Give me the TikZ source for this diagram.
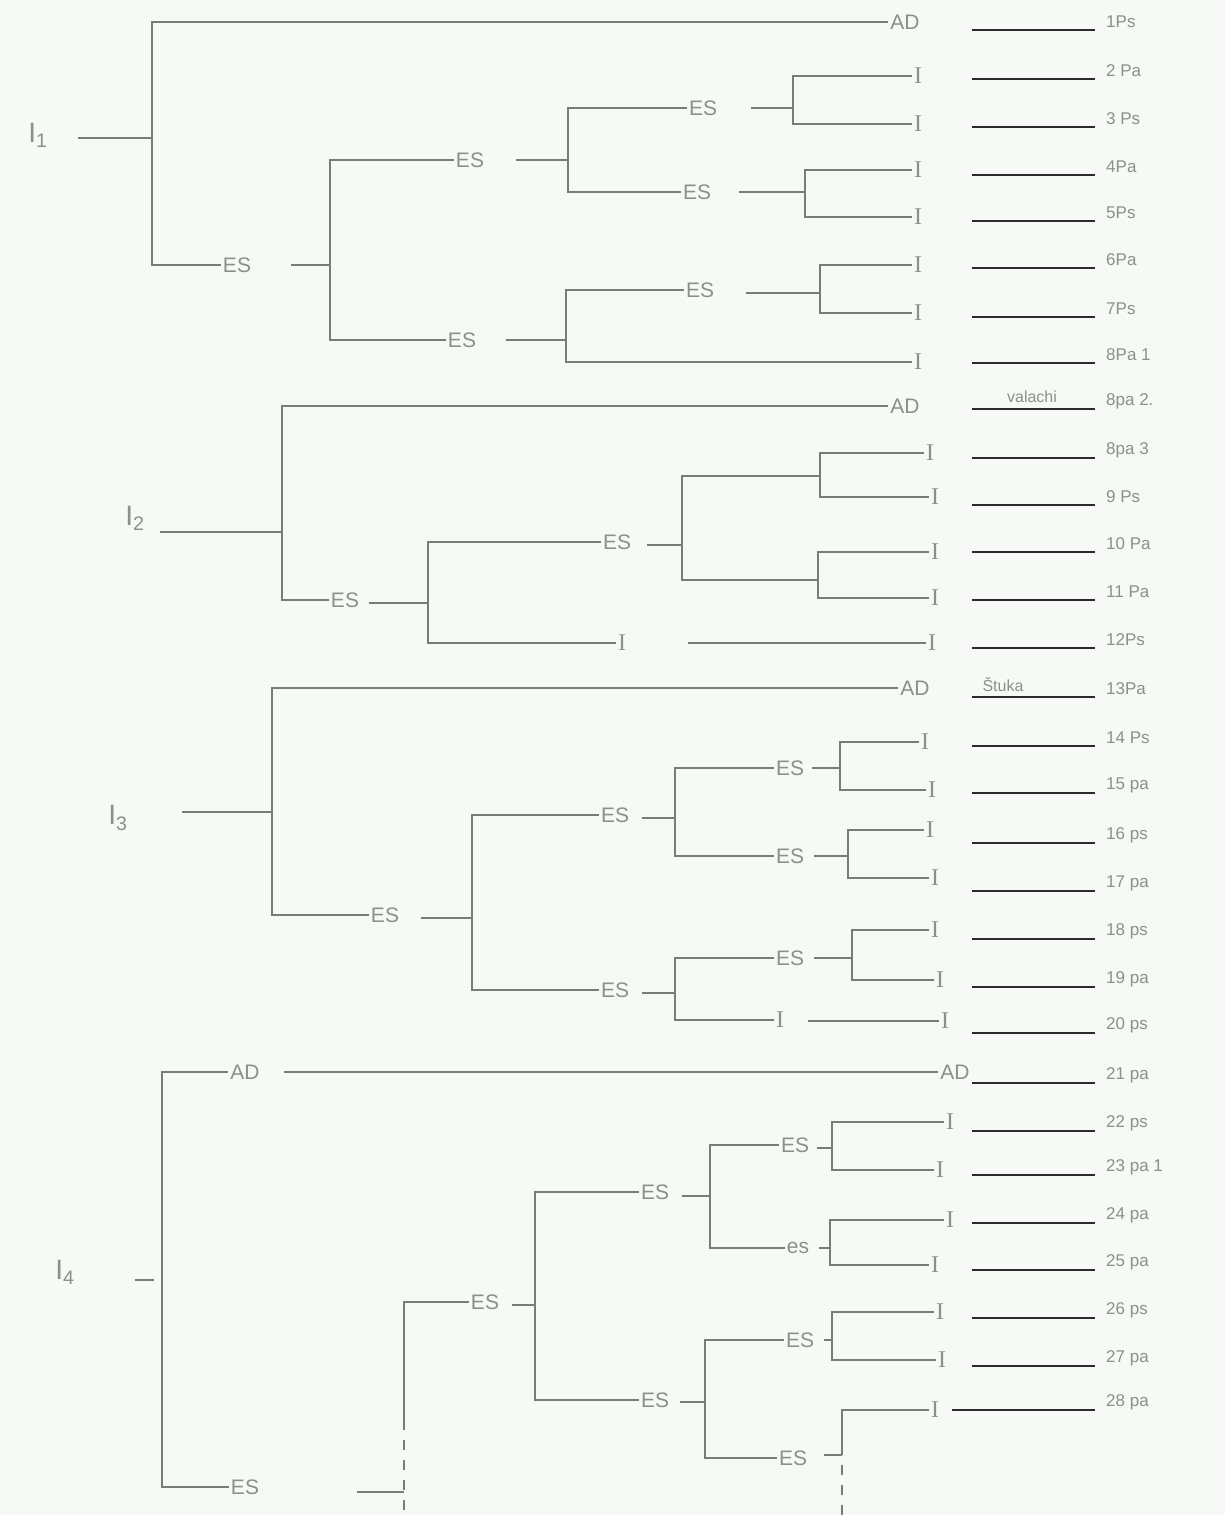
\documentclass[tikz,border=0pt]{standalone}
\usepackage{fontspec}
\setmainfont{Liberation Sans}
\newfontfamily\serifI{Liberation Serif}
\definecolor{paper}{RGB}{246,249,246}
\definecolor{pencil}{RGB}{122,124,122}
\definecolor{inkc}{RGB}{42,42,42}
\definecolor{hand}{RGB}{140,143,140}
\tikzset{
  lab/.style={text=hand, font=\fontsize{21}{21}\selectfont, inner sep=2pt},
  ilab/.style={text=hand, font=\serifI\fontsize{24}{24}\selectfont, inner sep=2pt},
  leaf/.style={text=hand, font=\fontsize{17}{17}\selectfont, anchor=west, inner sep=1pt},
  rootlab/.style={text=hand, font=\fontsize{28}{28}\selectfont, inner sep=2pt},
  note/.style={text=hand, font=\fontsize{16}{16}\selectfont, inner sep=1pt},
  br/.style={draw=pencil, line width=1.1pt},
  rl/.style={draw=inkc, line width=1.6pt},
  gapA/.style={shorten <=#1},
  gapB/.style={shorten >=#1}
}
\begin{document}
\begin{tikzpicture}[x=1pt,y=-1pt]
\useasboundingbox (0,0) rectangle (1225,1515);
\fill[paper] (0,0) rectangle (1225,1515);

% ---------- right-hand list ----------
\foreach \y/\x/\t [count=\k] in {
 30/972/1Ps, 79/972/2 Pa, 127/972/3 Ps, 175/972/4Pa, 221/972/5Ps, 268/972/6Pa,
 317/972/7Ps, 363/972/8Pa 1, 409/972/8pa 2., 458/972/8pa 3, 505/972/9 Ps,
 552/972/10 Pa, 600/972/11 Pa, 648/972/12Ps, 697/972/13Pa, 746/972/14 Ps,
 793/972/15 pa, 843/972/16 ps, 891/972/17 pa, 939/972/18 ps, 987/972/19 pa,
 1033/972/20 ps, 1083/972/21 pa, 1131/972/22 ps, 1175/972/23 pa 1,
 1223/972/24 pa, 1270/972/25 pa, 1318/972/26 ps, 1366/972/27 pa, 1410/952/28 pa}{
  \coordinate (s\k) at (\x,\y);
  \coordinate (e\k) at (1095,\y);
  \draw[rl] (s\k) -- (e\k);
  \node[leaf] (l\k) at (1105,\y-8) {\t};
}
\node[note] (n9) at (1032,397) {valachi};
\node[note] (n15) at (1003,685) {Štuka};

% ---------- group I1 ----------
\node[rootlab] (r1) at (38,135) {I\textsubscript{1}};
\coordinate (j1) at (152,138);
\node[lab] (ad1) at (905,22) {AD};
\node[lab] (es1) at (237,265) {ES};
\coordinate (j2) at (330,265);
\node[lab] (es2) at (470,160) {ES};
\node[lab] (es3) at (462,340) {ES};
\coordinate (j3) at (568,160);
\coordinate (j4) at (566,340);
\node[lab] (es4) at (703,108) {ES};
\node[lab] (es5) at (697,192) {ES};
\node[lab] (es6) at (700,290) {ES};
\coordinate (j5) at (793,108);
\coordinate (j6) at (805,192);
\coordinate (j7) at (820,293);
\node[ilab] (i2) at (918,76) {I};
\node[ilab] (i3) at (918,124) {I};
\node[ilab] (i4) at (918,170) {I};
\node[ilab] (i5) at (918,217) {I};
\node[ilab] (i6) at (918,265) {I};
\node[ilab] (i7) at (918,313) {I};
\node[ilab] (i8) at (918,362) {I};

\draw[br, gapA=28pt] (r1.east |- j1) -- (j1);
\draw[br] (j1) |- (ad1);
\draw[br] (j1) |- (es1);
\draw[br, gapA=38pt] (es1.east |- j2) -- (j2);
\draw[br] (j2) |- (es2);
\draw[br] (j2) |- (es3);
\draw[br, gapA=30pt] (es2.east |- j3) -- (j3);
\draw[br, gapA=28pt] (es3.east |- j4) -- (j4);
\draw[br] (j3) |- (es4);
\draw[br] (j3) |- (es5);
\draw[br] (j4) |- (es6);
\draw[br] (j4) |- (i8);
\draw[br, gapA=32pt] (es4.east |- j5) -- (j5);
\draw[br, gapA=26pt] (es5.east |- j6) -- (j6);
\draw[br, gapA=30pt] (es6.east |- j7) -- (j7);
\draw[br] (j5) |- (i2);
\draw[br] (j5) |- (i3);
\draw[br] (j6) |- (i4);
\draw[br] (j6) |- (i5);
\draw[br] (j7) |- (i6);
\draw[br] (j7) |- (i7);

% ---------- group I2 ----------
\node[rootlab] (r2) at (135,518) {I\textsubscript{2}};
\coordinate (j8) at (282,532);
\node[lab] (ad2) at (905,406) {AD};
\node[lab] (es7) at (345,600) {ES};
\coordinate (j9) at (428,603);
\node[lab] (es8) at (617,542) {ES};
\node[ilab] (im9) at (622,643) {I};
\coordinate (j10) at (682,545);
\coordinate (k1) at (820,476);
\coordinate (k2) at (818,580);
\node[ilab] (i10) at (930,453) {I};
\node[ilab] (i11) at (935,497) {I};
\node[ilab] (i12) at (935,552) {I};
\node[ilab] (i13) at (935,598) {I};
\node[ilab] (i14) at (932,643) {I};

\draw[br, gapA=13pt] (r2.east |- j8) -- (j8);
\draw[br] (j8) |- (ad2);
\draw[br] (j8) |- (es7);
\draw[br, gapA=8pt] (es7.east |- j9) -- (j9);
\draw[br] (j9) |- (es8);
\draw[br] (j9) |- (im9);
\draw[br, gapA=14pt] (es8.east |- j10) -- (j10);
\draw[br] (j10) |- (k1);
\draw[br] (j10) |- (k2);
\draw[br] (k1) |- (i10);
\draw[br] (k1) |- (i11);
\draw[br] (k2) |- (i12);
\draw[br] (k2) |- (i13);
\draw[br, gapA=60pt] (im9) -- (i14);

% ---------- group I3 ----------
\node[rootlab] (r3) at (118,818) {I\textsubscript{3}};
\coordinate (j11) at (272,812);
\node[lab] (ad3) at (915,688) {AD};
\node[lab] (es9) at (385,915) {ES};
\coordinate (j12) at (472,918);
\node[lab] (es10) at (615,815) {ES};
\node[lab] (es11) at (615,990) {ES};
\coordinate (j13) at (675,818);
\coordinate (j14) at (675,993);
\node[lab] (es12) at (790,768) {ES};
\node[lab] (es13) at (790,856) {ES};
\node[lab] (es14) at (790,958) {ES};
\node[ilab] (im20) at (780,1020) {I};
\coordinate (j15) at (840,768);
\coordinate (j16) at (848,856);
\coordinate (j17) at (852,958);
\node[ilab] (i15) at (925,742) {I};
\node[ilab] (i16) at (932,790) {I};
\node[ilab] (i17) at (930,830) {I};
\node[ilab] (i18) at (935,878) {I};
\node[ilab] (i19) at (935,930) {I};
\node[ilab] (i20) at (940,980) {I};
\node[ilab] (i21) at (945,1021) {I};

\draw[br, gapA=52pt] (r3.east |- j11) -- (j11);
\draw[br] (j11) |- (ad3);
\draw[br] (j11) |- (es9);
\draw[br, gapA=20pt] (es9.east |- j12) -- (j12);
\draw[br] (j12) |- (es10);
\draw[br] (j12) |- (es11);
\draw[br, gapA=11pt] (es10.east |- j13) -- (j13);
\draw[br, gapA=11pt] (es11.east |- j14) -- (j14);
\draw[br] (j13) |- (es12);
\draw[br] (j13) |- (es13);
\draw[br] (j14) |- (es14);
\draw[br] (j14) |- (im20);
\draw[br, gapA=6pt] (es12.east |- j15) -- (j15);
\draw[br, gapA=8pt] (es13.east |- j16) -- (j16);
\draw[br, gapA=8pt] (es14.east |- j17) -- (j17);
\draw[br] (j15) |- (i15);
\draw[br] (j15) |- (i16);
\draw[br] (j16) |- (i17);
\draw[br] (j16) |- (i18);
\draw[br] (j17) |- (i19);
\draw[br] (j17) |- (i20);
\draw[br, gapA=22pt] (im20.east |- i21) -- (i21);

% ---------- group I4 ----------
\node[rootlab] (r4) at (65,1272) {I\textsubscript{4}};
\coordinate (j18) at (162,1280);
\node[lab] (ad4a) at (245,1072) {AD};
\node[lab] (ad4b) at (955,1072) {AD};
\node[lab] (es15) at (245,1487) {ES};
\coordinate (j19) at (404,1492);
\coordinate (d1) at (404,1420);
\coordinate (d2) at (404,1515);
\node[lab] (es16) at (485,1302) {ES};
\coordinate (j20) at (535,1305);
\node[lab] (es17) at (655,1192) {ES};
\node[lab] (es18) at (655,1400) {ES};
\coordinate (j21) at (710,1196);
\coordinate (j22) at (705,1402);
\node[lab] (es19) at (795,1145) {ES};
\node[lab] (es20) at (798,1248) {es};
\node[lab] (es21) at (800,1340) {ES};
\node[lab] (es22) at (793,1458) {ES};
\coordinate (j23) at (832,1148);
\coordinate (j24) at (830,1248);
\coordinate (j25) at (832,1340);
\coordinate (j26) at (842,1455);
\coordinate (d3) at (842,1465);
\coordinate (d4) at (842,1515);
\node[ilab] (i22) at (950,1122) {I};
\node[ilab] (i23) at (940,1170) {I};
\node[ilab] (i24) at (950,1220) {I};
\node[ilab] (i25) at (935,1265) {I};
\node[ilab] (i26) at (940,1312) {I};
\node[ilab] (i27) at (942,1360) {I};
\node[ilab] (i28) at (935,1410) {I};

\draw[br, gapA=58pt, gapB=8pt] (r4.east |- j18) -- (j18);
\draw[br] (j18) |- (ad4a);
\draw[br, gapA=22pt] (ad4a) -- (ad4b);
\draw[br] (j18) |- (es15);
\draw[br, gapA=96pt] (es15.east |- j19) -- (j19);
\draw[br] (d1) |- (es16);
\draw[br, dashed, dash pattern=on 10pt off 10pt] (d1) -- (d2);
\draw[br, gapA=11pt] (es16.east |- j20) -- (j20);
\draw[br] (j20) |- (es17);
\draw[br] (j20) |- (es18);
\draw[br, gapA=11pt] (es17.east |- j21) -- (j21);
\draw[br, gapA=9pt] (es18.east |- j22) -- (j22);
\draw[br] (j21) |- (es19);
\draw[br] (j21) |- (es20);
\draw[br] (j22) |- (es21);
\draw[br] (j22) |- (es22);
\draw[br, gapA=6pt] (es19.east |- j23) -- (j23);
\draw[br, gapA=8pt] (es20.east |- j24) -- (j24);
\draw[br, gapA=8pt] (es21.east |- j25) -- (j25);
\draw[br, gapA=15pt] (es22.east |- j26) -- (j26);
\draw[br] (j23) |- (i22);
\draw[br] (j23) |- (i23);
\draw[br] (j24) |- (i24);
\draw[br] (j24) |- (i25);
\draw[br] (j25) |- (i26);
\draw[br] (j25) |- (i27);
\draw[br, line width=1.8pt] (j26) |- (i28);
\draw[br, dashed, dash pattern=on 10pt off 10pt] (d3) -- (d4);
\end{tikzpicture}
\end{document}
